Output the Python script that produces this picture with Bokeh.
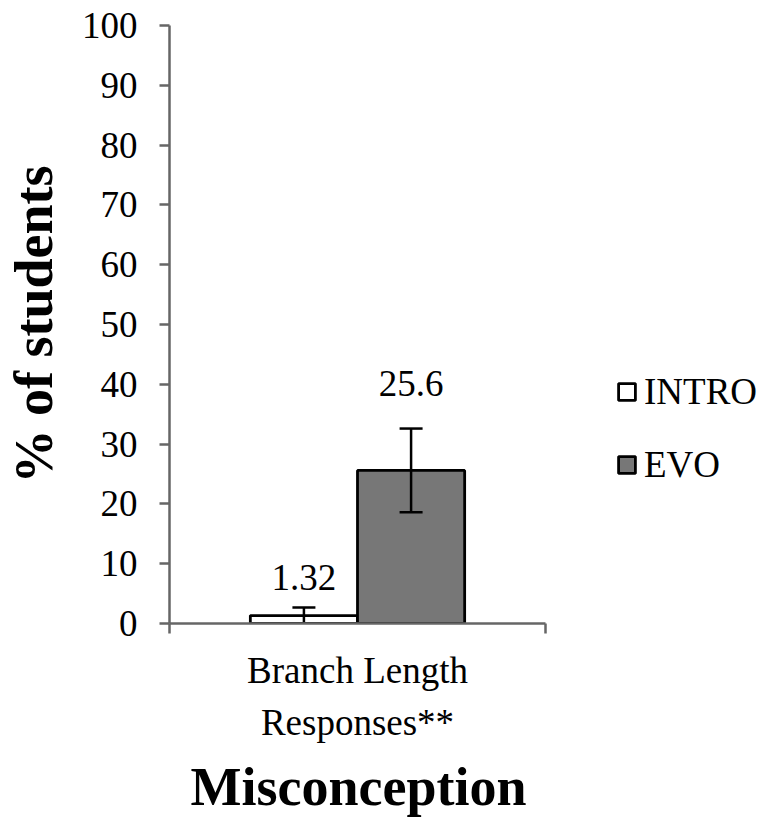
from bokeh.plotting import figure
from bokeh.models import (ColumnDataSource, Range1d, FixedTicker,
                          Legend, LegendItem, Title)
from bokeh.core.properties import value
from bokeh.embed import file_html
from bokeh.resources import INLINE

# ---- data ----
categories = ["Branch Length\nResponses**"]
series = ["INTRO", "EVO"]
means = [1.32, 25.6]
errors = [1.35, 7.0]
value_labels = ["1.32", "25.6"]
y_ticks = [0, 10, 20, 30, 40, 50, 60, 70, 80, 90, 100]
x_title = "Misconception"
y_title = "% of students"

# ---- style ----
FONT = "Liberation Serif"
fills = ["white", "#777777"]
bar_width = 0.285
label_gap = [18, 33]
AXIS_COLOR = "#666666"
PLOT_W = 376          # width of the category area in px
FRAME_W = 591         # frame extended to the right to host the legend

cat_center = 0.5
xs = [cat_center + (i - (len(series) - 1) / 2) * bar_width for i in range(len(series))]
n_cat = len(categories)

src = ColumnDataSource(dict(
    x=xs, top=means, fill=fills, series=series,
    upper=[m + e for m, e in zip(means, errors)],
    lower=[m - e for m, e in zip(means, errors)],
    label=value_labels, gap=[-g for g in label_gap],
))

p = figure(frame_width=FRAME_W, frame_height=598, output_backend="svg",
           toolbar_location=None,
           x_range=Range1d(0, n_cat * FRAME_W / PLOT_W), y_range=Range1d(0, 100),
           min_border_left=165, min_border_top=25, min_border_right=0,
           min_border_bottom=10)
p.outline_line_color = None
p.grid.visible = False
p.background_fill_color = "white"

bars = p.vbar(x="x", top="top", bottom=0, width=bar_width, source=src,
              fill_color="fill", line_color="black", line_width=2.8)

# error bars
p.segment(x0="x", y0="lower", x1="x", y1="upper", source=src,
          line_color="black", line_width=2.5)
p.scatter(x="x", y="upper", source=src, marker="dash", size=23,
          line_color="black", line_width=2.5)
p.scatter(x="x", y="lower", source=src, marker="dash", size=23,
          line_color="black", line_width=2.5)

p.text(x="x", y="upper", text="label", source=src, y_offset="gap",
       text_align="center", text_baseline="bottom",
       text_font=value(FONT), text_font_size="37px", text_color="black")

# y axis
ya = p.yaxis[0]
ya.ticker = FixedTicker(ticks=y_ticks)
ya.axis_label = y_title
ya.axis_label_text_font = FONT
ya.axis_label_text_font_style = "bold"
ya.axis_label_text_font_size = "54px"
ya.axis_label_text_color = "black"
ya.axis_label_standoff = 15
ya.major_label_text_font = FONT
ya.major_label_text_font_size = "37px"
ya.major_label_text_color = "black"
ya.major_label_standoff = 22
ya.major_tick_out = 10
ya.major_tick_in = 0
ya.minor_tick_out = 0
ya.minor_tick_in = 0
ya.axis_line_color = AXIS_COLOR
ya.axis_line_width = 2.5
ya.major_tick_line_color = AXIS_COLOR
ya.major_tick_line_width = 2.5

# x axis (line limited to the category area)
xa = p.xaxis[0]
xa.bounds = (0, n_cat)
xa.ticker = FixedTicker(ticks=[cat_center + i for i in range(n_cat)],
                        minor_ticks=list(range(n_cat + 1)))
xa.major_label_overrides = {cat_center + i: c for i, c in enumerate(categories)}
xa.major_label_text_font = FONT
xa.major_label_text_font_size = "37px"
xa.major_label_text_color = "black"
xa.major_label_text_line_height = 1.27
xa.major_label_standoff = 16
xa.major_tick_out = 0
xa.major_tick_in = 0
xa.minor_tick_out = 10
xa.minor_tick_in = 0
xa.axis_line_color = AXIS_COLOR
xa.axis_line_width = 2.5
xa.minor_tick_line_color = AXIS_COLOR
xa.minor_tick_line_width = 2.5

# x title, centred under the category area
xt = Title(text=x_title, align="left", offset=21, standoff=18,
           text_font=FONT, text_font_style="bold", text_font_size="54px",
           text_color="black")
p.add_layout(xt, "below")

# legend
items = [LegendItem(label=s, renderers=[bars], index=i) for i, s in enumerate(series)]
legend = Legend(items=items, location=(447, 137), orientation="vertical",
                label_text_font=FONT, label_text_font_size="37px",
                label_text_color="black", glyph_width=21, glyph_height=21,
                label_standoff=7, spacing=30, padding=0, margin=0,
                border_line_alpha=0, background_fill_alpha=0)
p.add_layout(legend, "center")

open("out.html", "w").write(file_html(p, INLINE))
